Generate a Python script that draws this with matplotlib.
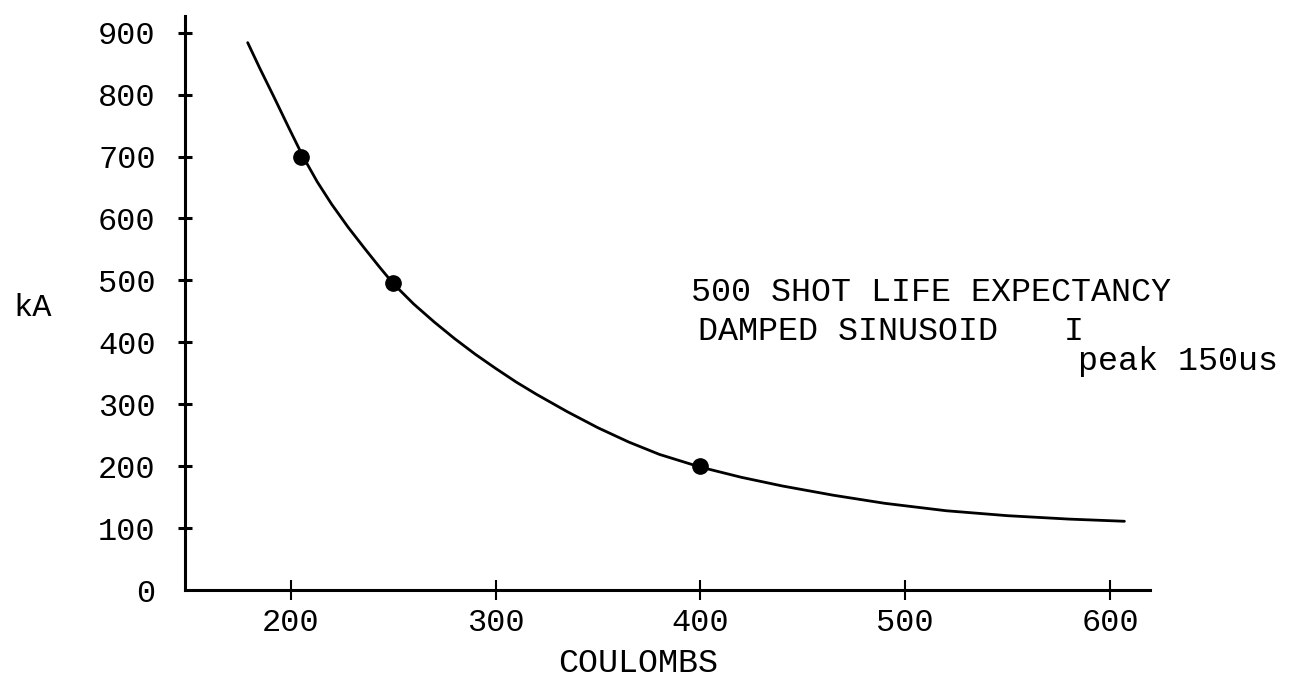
import matplotlib
matplotlib.use("Agg")
import matplotlib.pyplot as plt

# Data
curve_coulombs = [179, 185, 192, 199, 206, 213, 220, 228, 236, 243, 250, 260, 270, 280,
                  290, 300, 310, 320, 335, 350, 365, 380, 400, 420, 440, 465, 490,
                  520, 550, 580, 607]
curve_ka = [884, 842, 795, 747, 700, 659, 623, 586, 552, 523, 495, 462, 433, 406,
            381, 358, 336, 316, 288, 262, 239, 219, 198.5, 182, 168, 153, 140,
            128, 120, 114.5, 111]
point_coulombs = [205, 250, 400]
point_ka = [700, 495, 200]
x_ticks = [200, 300, 400, 500, 600]
y_ticks = [0, 100, 200, 300, 400, 500, 600, 700, 800, 900]

FONT = "Liberation Mono"
FS = 23
FS2 = 24

fig = plt.figure(figsize=(12.99, 6.77), dpi=100)
ax = fig.add_axes([185/1299, 1-590/677, (1150-185)/1299, (590-16)/677])

ax.plot(curve_coulombs, curve_ka, color="black", lw=2.0, solid_capstyle="round",
        solid_joinstyle="round")
ax.plot(point_coulombs, point_ka, "o", color="black", ms=11)

ax.set_xlim(148.4, 619.5)
ax.set_ylim(0, 927)
for s in ["top", "right"]:
    ax.spines[s].set_visible(False)
for s in ["left", "bottom"]:
    ax.spines[s].set_linewidth(2.2)

ax.set_xticks(x_ticks)
ax.set_yticks(y_ticks)
ax.set_xticklabels([str(v) for v in x_ticks], fontfamily=FONT, fontsize=FS)
ax.set_yticklabels([str(v) for v in y_ticks], fontfamily=FONT, fontsize=FS)
ax.tick_params(axis="x", direction="inout", length=14, width=1.5, pad=6)
ax.tick_params(axis="y", direction="inout", length=10, width=2.2, pad=16)
ax.yaxis.get_major_ticks()[0].tick1line.set_visible(False)

fig.text(638/1299, 1-663/677, "COULOMBS", fontfamily=FONT, fontsize=FS2,
         ha="center", va="center")
fig.text(33/1299, 1-308/677, "kA", fontfamily=FONT, fontsize=FS, ha="center", va="center")

ax.text(395.4, (590-293)/0.619, "500 SHOT LIFE EXPECTANCY", fontfamily=FONT, fontsize=FS2,
        ha="left", va="center")
ax.text(398.8, (590-332)/0.619, "DAMPED SINUSOID", fontfamily=FONT, fontsize=FS2,
        ha="left", va="center")
ax.text(577.5, (590-332)/0.619, "I", fontfamily=FONT, fontsize=FS2,
        ha="left", va="center", clip_on=False)
ax.text(584.5, (590-362)/0.619, "peak 150us", fontfamily=FONT, fontsize=FS2,
        ha="left", va="center", clip_on=False)

fig.savefig("out.png", dpi=100, facecolor="white")
